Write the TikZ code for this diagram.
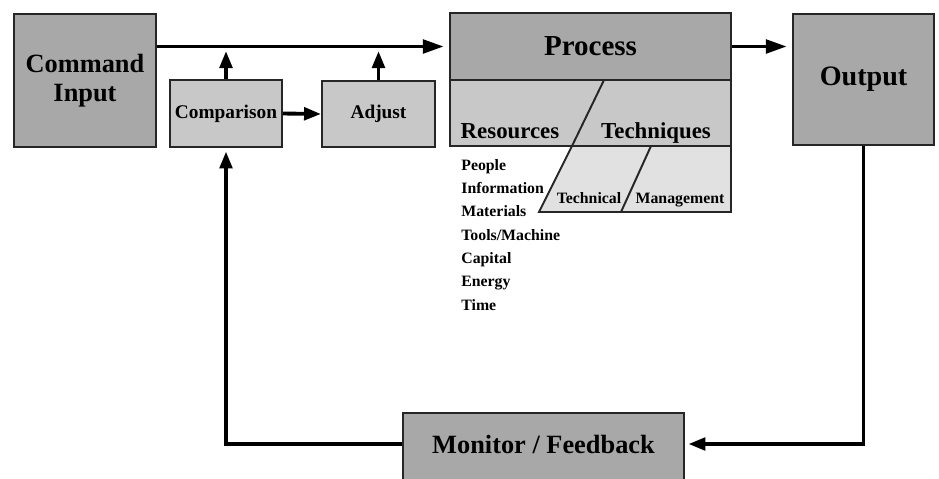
\documentclass[tikz,border=0pt]{standalone}
\usepackage{fontspec}
\setmainfont{Liberation Serif}
\usetikzlibrary{arrows.meta}
\definecolor{darkbox}{RGB}{168,168,168}
\definecolor{midbox}{RGB}{200,200,200}
\definecolor{lightbox}{RGB}{225,225,225}
\begin{document}
\begin{tikzpicture}[x=0.02cm,y=-0.02cm,
    box/.style={draw=black!85,line width=1.1pt,inner sep=0pt,align=center},
    bigbox/.style={box,fill=darkbox,font=\fontsize{15}{16.5}\selectfont\bfseries},
    smallbox/.style={box,fill=midbox,font=\fontsize{11}{13}\selectfont\bfseries},
    label/.style={anchor=base,inner sep=0pt,font=\fontsize{13}{15}\selectfont\bfseries},
    sublabel/.style={anchor=base,inner sep=0pt,font=\fontsize{9}{11}\selectfont\bfseries},
    item/.style={anchor=base west,inner sep=0pt,font=\fontsize{9}{11}\selectfont\bfseries},
    flow/.style={line width=2.2pt,-{Triangle[length=0.42cm,width=0.27cm]}},
    tick/.style={line width=2.2pt,-{Triangle[length=0.34cm,width=0.25cm]}}]
  \useasboundingbox (0,0) rectangle (939,478);
  \node[bigbox,minimum width=2.84cm,minimum height=2.66cm] (cmd) at (85,80.5) {Command\\Input};
  \node[smallbox,minimum width=2.24cm,minimum height=1.34cm] (cmp) at (226,113.5) {Comparison};
  \node[smallbox,minimum width=2.26cm,minimum height=1.32cm] (adj) at (378.5,114) {Adjust};
  \node[bigbox,font=\fontsize{16.5}{18}\selectfont\bfseries,minimum width=5.62cm,minimum height=1.34cm] (proc) at (590.5,46.5) {Process};
  \node[box,fill=midbox,minimum width=5.62cm,minimum height=1.32cm] (res) at (590.5,113) {};
  \draw[line width=1.1pt,draw=black!85] (604,80) -- (572,146);
  \node[label] (resl) at (510,138) {Resources};
  \node[label] (tech) at (656,138) {Techniques};
  \draw[line width=1.1pt,draw=black!85,fill=lightbox] (572,146) -- (731,146) -- (731,212) -- (539,212) -- cycle;
  \draw[line width=1.1pt,draw=black!85] (651,146) -- (621,212);
  \node[sublabel] (techn) at (589,203) {Technical};
  \node[sublabel] (mgmt) at (680,203) {Management};
  \node[item] (ppl) at (461,170) {People};
  \node[item] (info) at (461,193.3) {Information};
  \node[item] (mat) at (461,216.6) {Materials};
  \node[item] (tools) at (461,240) {Tools/Machine};
  \node[item] (cap) at (461,263.3) {Capital};
  \node[item] (nrg) at (461,286.6) {Energy};
  \node[item] (time) at (461,310) {Time};
  \node[bigbox,font=\fontsize{16}{18}\selectfont\bfseries,minimum width=2.82cm,minimum height=2.62cm] (out) at (863.5,79.5) {Output};
  \node[box,fill=darkbox,minimum width=5.62cm,minimum height=1.8cm,anchor=north] (mon) at (543.5,412) {};
  \node[inner sep=0pt,font=\fontsize{15}{17}\selectfont\bfseries] (monl) at (543.5,444) {Monitor / Feedback};
  \draw[flow,shorten >=3pt] (cmd.east |- proc.west) -- (proc.west);
  \draw[flow,shorten >=3pt] (proc.east) -- (proc.east -| out.west);
  \draw[tick] (cmp.north) -- ++(0,-28);
  \draw[tick] (adj.north) -- ++(0,-29);
  \draw[tick] (cmp.east) -- (adj.west);
  \draw[tick,shorten >=2pt] (out.south) |- (mon.east |- monl);
  \draw[tick,shorten >=2pt] (mon.west |- monl) -| (cmp.south);
\end{tikzpicture}
\end{document}
